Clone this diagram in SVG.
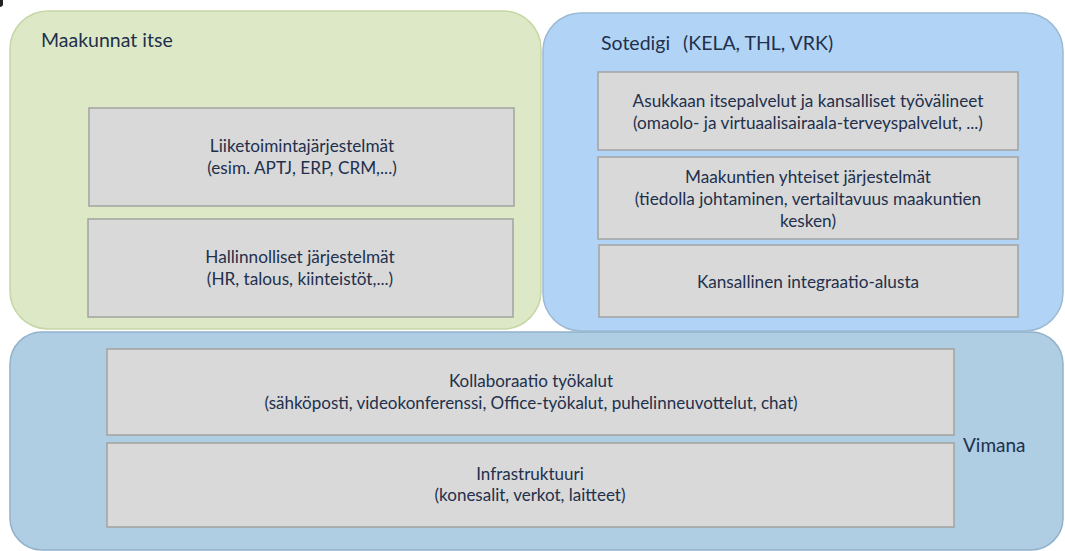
<svg xmlns="http://www.w3.org/2000/svg" width="1065" height="551" viewBox="0 0 1065 551">
  <style>
    .area-green { fill: #dde9c6; stroke: #c6d6a6; stroke-width: 1.5; }
    .area-sote { fill: #b1d4f6; stroke: #9cbad4; stroke-width: 1.5; }
    .area-vimana { fill: #afcee4; stroke: #92b2cb; stroke-width: 1.5; }
    .box { fill: #d9d9d9; stroke: #a2a2a0; stroke-width: 1.5; }
    text { font-family: Lato, "Liberation Sans", sans-serif; fill: #22304c; }
    .title { font-size: 19.5px; }
    .label { font-size: 17.2px; text-anchor: middle; }
    .label-s { font-size: 17px; text-anchor: middle; }
  </style>

  <rect width="1065" height="551" fill="#ffffff"/>
  <!-- small dark mark at the top-left corner -->
  <path d="M0,0 H3 V5 Q2,7 0,7 Z" fill="#222222"/>

  <!-- Maakunnat itse -->
  <g id="maakunnat">
    <rect class="area-green" x="10" y="11" width="531" height="318" rx="38" ry="38"/>
    <text class="title" x="41" y="47">Maakunnat itse</text>
  </g>

  <!-- Sotedigi -->
  <g id="sotedigi">
    <rect class="area-sote" x="543" y="13" width="520" height="318" rx="38" ry="38"/>
    <text class="title" x="601" y="50">Sotedigi</text>
    <text class="title" x="683" y="50">(KELA, THL, VRK)</text>
  </g>

  <!-- Vimana -->
  <g id="vimana">
    <rect class="area-vimana" x="10" y="332" width="1053" height="218" rx="32" ry="32"/>
    <text class="title" x="963" y="452" style="font-size:19px">Vimana</text>
  </g>

  <g id="liiketoiminta">
    <rect class="box" x="89" y="108" width="425" height="98"/>
    <text class="label" x="302" y="152">Liiketoimintajärjestelmät</text>
    <text class="label" x="302" y="174">(esim. APTJ, ERP, CRM,...)</text>
  </g>

  <g id="hallinnolliset">
    <rect class="box" x="88" y="219" width="425" height="98"/>
    <text class="label" x="300" y="263">Hallinnolliset järjestelmät</text>
    <text class="label" x="300" y="285">(HR, talous, kiinteistöt,...)</text>
  </g>

  <g id="asukkaan">
    <rect class="box" x="598" y="72" width="420" height="78"/>
    <text class="label" x="808" y="107">Asukkaan itsepalvelut ja kansalliset työvälineet</text>
    <text class="label" x="808" y="129">(omaolo- ja virtuaalisairaala-terveyspalvelut, ...)</text>
  </g>

  <g id="maakuntien">
    <rect class="box" x="598" y="157" width="420" height="82"/>
    <text class="label" x="808" y="183">Maakuntien yhteiset järjestelmät</text>
    <text class="label" x="808" y="205">(tiedolla johtaminen, vertailtavuus maakuntien</text>
    <text class="label" x="808" y="227">kesken)</text>
  </g>

  <g id="integraatio">
    <rect class="box" x="599" y="245" width="419" height="72"/>
    <text class="label" x="808" y="288">Kansallinen integraatio-alusta</text>
  </g>

  <g id="kollaboraatio">
    <rect class="box" x="107" y="349" width="847" height="86"/>
    <text class="label-s" x="531" y="387">Kollaboraatio työkalut</text>
    <text class="label-s" x="531" y="409">(sähköposti, videokonferenssi, Office-työkalut, puhelinneuvottelut, chat)</text>
  </g>

  <g id="infrastruktuuri">
    <rect class="box" x="107" y="443" width="847" height="84"/>
    <text class="label-s" x="530" y="480">Infrastruktuuri</text>
    <text class="label-s" x="530" y="501">(konesalit, verkot, laitteet)</text>
  </g>

  <!-- no connectors in this layout -->
  <g id="connectors"/>
</svg>
